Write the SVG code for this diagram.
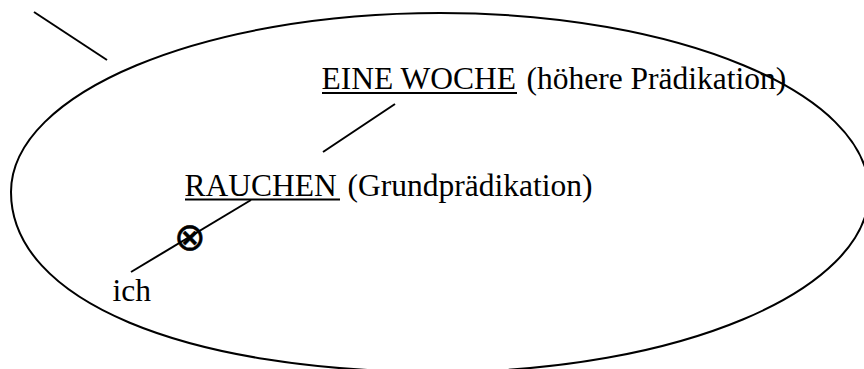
<svg xmlns="http://www.w3.org/2000/svg" width="864" height="369" viewBox="0 0 864 369">
  <style>
    .lbl { font-family: "Liberation Serif", "Times New Roman", serif; font-size: 31.5px; fill: #000; }
    .ul { stroke: #000; stroke-width: 2; }
    .edge { stroke: #000; stroke-width: 2; fill: none; stroke-linecap: butt; }
    .scope { stroke: #000; stroke-width: 2; fill: none; }
    .op { font-family: "DejaVu Sans", sans-serif; font-size: 38px; fill: #000; stroke: #000; stroke-width: 0.5; }
  </style>
  <rect width="864" height="369" fill="#fff"/>

  <!-- scope ellipse around the predications -->
  <g id="scope">
    <path class="scope" d="M 11,192 C 11,92.6 203,13 440,13 C 677,13 869,92.6 869,192 C 869,291.4 677,372 440,372 C 183,372 11,300 11,192 Z"/>
  </g>

  <!-- connectors -->
  <g id="connectors">
    <line class="edge" x1="34" y1="12" x2="107" y2="60"/>
    <line class="edge" x1="395" y1="104" x2="323" y2="152"/>
    <line class="edge" x1="251" y1="200" x2="131" y2="272"/>
  </g>

  <g id="node-eine-woche">
    <text class="lbl" x="321.6" y="89">EINE WOCHE</text>
    <line class="ul" x1="322" y1="93" x2="517" y2="93"/>
    <text class="lbl" x="526.5" y="89">(höhere Prädikation)</text>
  </g>

  <g id="node-rauchen">
    <text class="lbl" x="184.5" y="195.5">RAUCHEN</text>
    <line class="ul" x1="185" y1="199.5" x2="340" y2="199.5"/>
    <text class="lbl" x="347.5" y="195.5">(Grundprädikation)</text>
  </g>

  <!-- operator on the ich–RAUCHEN link -->
  <g id="node-operator">
    <text class="op" x="190" y="237" text-anchor="middle" dominant-baseline="central">⊗</text>
  </g>

  <g id="node-ich">
    <text class="lbl" x="112.5" y="301">ich</text>
  </g>
</svg>
